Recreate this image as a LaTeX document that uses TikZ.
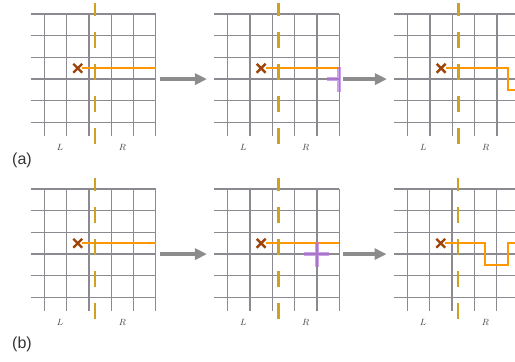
\documentclass[tikz,border=0pt]{standalone}
\usepackage{fontspec}
\newfontfamily\tagfont{Liberation Sans}
\usetikzlibrary{arrows.meta,shapes.misc}

\definecolor{gridgray}{RGB}{138,138,144}
\definecolor{wireorange}{RGB}{255,152,0}
\definecolor{cutgold}{RGB}{208,160,32}
\definecolor{crossbrown}{RGB}{158,68,8}
\definecolor{markpurple}{RGB}{180,110,225}
\definecolor{flowgray}{RGB}{140,140,140}

\begin{document}
\begin{tikzpicture}[x=1pt,y=-1pt,
    gridline/.style={draw=gridgray, line width=1.3pt},
    cutline/.style={draw=cutgold, line width=2.6pt, dash pattern=on 16pt off 16pt, dash phase=3pt},
    wire/.style={draw=wireorange, line width=2pt},
    startcross/.style={cross out, draw=crossbrown, line width=2.4pt, minimum size=6.5pt, inner sep=0pt},
    marker/.style={draw=markpurple, draw opacity=0.65, line width=3.8pt},
    flow/.style={draw=flowgray, line width=4.7pt, -{Triangle[length=12pt,width=11pt]}},
    side/.style={font=\fontsize{9}{10}\selectfont, text=black!75},
    tag/.style={font=\tagfont\fontsize{16}{19}\selectfont, text=black!80}]

    \clip (0,0) rectangle (515,362);

    % panels: origin x / origin y / name / route of the wire
    \foreach \px/\py/\p/\route in {
        44.3/14/a1/{-- (5,2.5)},
        227.7/14/a2/{-- (5,2.5)},
        407.7/14/a3/{-| (4.5,3.5) -- (5.6,3.5)},
        44.3/189/b1/{-- (5,2.5)},
        227.7/189/b2/{-- (5,2.5)},
        407.3/189/b3/{-| (3.5,3.5) -| (4.5,2.5) -- (5.6,2.5)}} {
    \begin{scope}[shift={(\px,\py)}, x=22.3pt, y=-21.7pt]
        \coordinate (\p-o) at (0,0);
        \foreach \i in {0,...,5} {
            \draw[gridline] (-0.6,\i) -- (5,\i);
            \draw[gridline] (\i,0) -- (\i,5.6);
        }
        \node[startcross] (\p-start) at (1.5,2.5) {};
        \draw[wire] (\p-start) \route;
        \draw[cutline] (2.27,-0.508) -- (2.27,6);
        \node[side] (\p-L) at (0.7,6.14) {$L$};
        \node[side] (\p-R) at (3.5,6.14) {$R$};
        \coordinate (\p-in) at (-0.93,3);
        \coordinate (\p-out) at (5.18,3);
    \end{scope}
    }

    % purple marks
    \begin{scope}[shift={(a2-o)}, x=22.3pt, y=-21.7pt]
        \draw[marker] (5,2.43) -- (5,3.59) (4.45,3) -- (5,3);
    \end{scope}
    \begin{scope}[shift={(b2-o)}, x=22.3pt, y=-21.7pt]
        \draw[marker] (4,2.43) -- (4,3.59) (3.43,3) -- (4.55,3);
    \end{scope}

    % steps
    \draw[flow] (a1-out) -- (a2-in);
    \draw[flow] (a2-out) -- (a3-in);
    \draw[flow] (b1-out) -- (b2-in);
    \draw[flow] (b2-out) -- (b3-in);

    \node[tag] (tag-a) at (22,160) {(a)};
    \node[tag] (tag-b) at (22,344) {(b)};
    %
\end{tikzpicture}
\end{document}
